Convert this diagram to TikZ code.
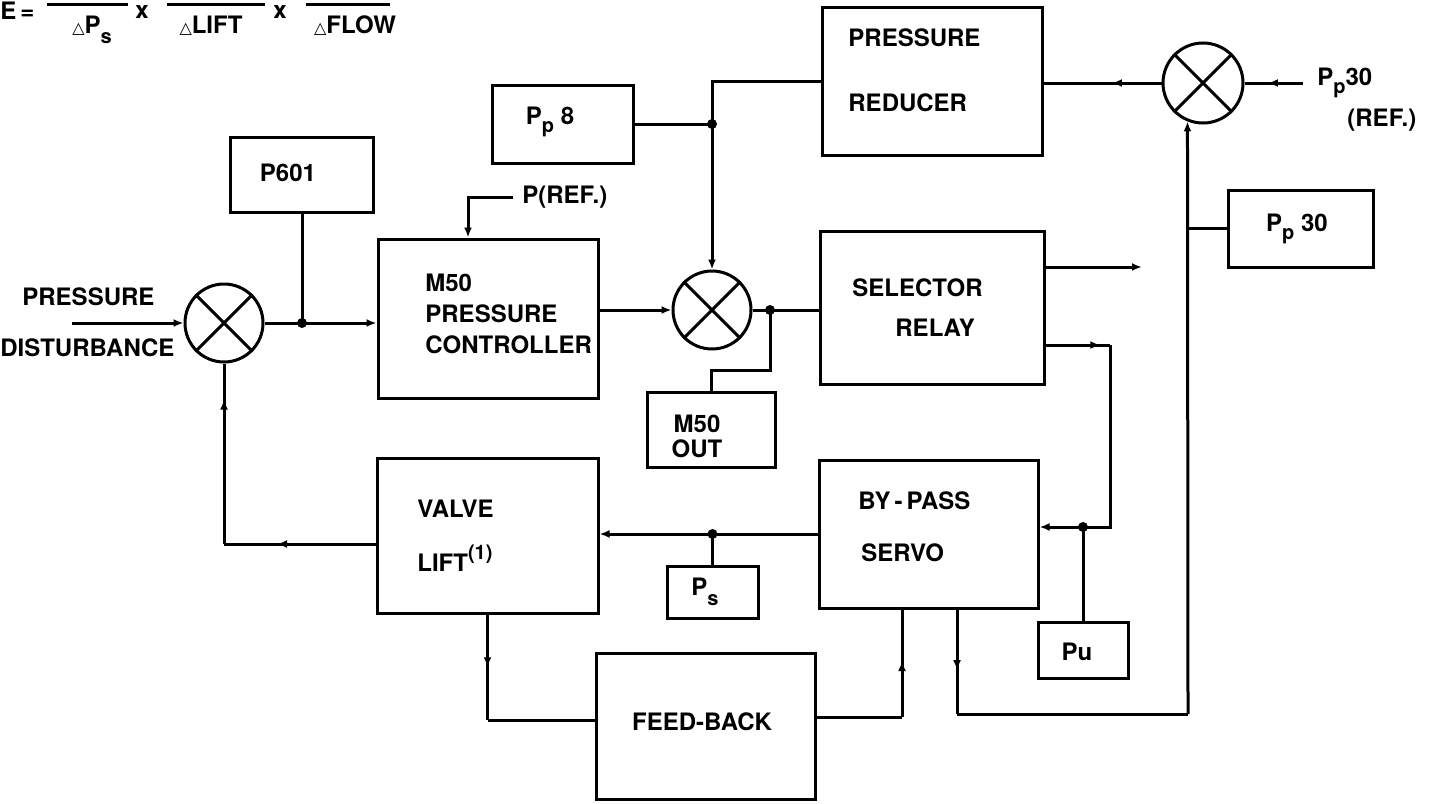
\documentclass[tikz,border=0pt]{standalone}
\usepackage{fontspec}
\setmainfont{TeX Gyre Heros}
\newfontfamily\dvs{DejaVu Sans}
\usetikzlibrary{arrows.meta,decorations.markings,calc}
\newcommand\lowp{\raisebox{-4pt}{\fontsize{10}{10}\selectfont p}}
\newcommand\lows{\raisebox{-5pt}{\fontsize{10}{10}\selectfont s}}
\newcommand\tri{{\dvs\fontsize{8}{8}\selectfont\char"25B3}}
\begin{document}
\begin{tikzpicture}[x=0.5pt,y=-0.5pt,
  every node/.style={font=\fontsize{12}{15.5}\selectfont\bfseries, inner sep=0pt},
  ln/.style={line width=1.5pt},
  blk/.style 2 args={draw, line width=1.5pt, rectangle, minimum width=#1*0.5pt, minimum height=#2*0.5pt},
  sumj/.style={draw, line width=1.5pt, circle, minimum size=78*0.5pt},
  tip/.style={-{Latex[length=5pt,width=4pt]}},
  midarr/.style={postaction={decorate}, decoration={markings, mark=at position #1 with {\arrow{Latex[length=5pt,width=4pt]}}}},
  jdot/.style={circle, fill, minimum size=5pt},
  lbl/.style={anchor=west, align=left}
]
\useasboundingbox (0,0) rectangle (1433,803);

% formula (numerators lie above the page, as in the reference)
\node[anchor=base west] (etxt) at (0,19) {E\,=};
\draw[ln] (47,4) -- (128,4);
\draw[ln] (167,4) -- (265,4);
\draw[ln] (306,4) -- (390,4);
\node[anchor=base] (d1) at (92,33) {\tri P\lows};
\node[anchor=base] (d2) at (211,33) {\tri LIFT};
\node[anchor=base] (d3) at (355,33) {\tri FLOW};
\node (x1) at (142,12) {x};
\node (x2) at (280,12) {x};

% boxes
\node[blk={143}{75}] (p601) at (302,174.5) {};
\node[blk={220}{159}] (m50) at (488,318.5) {};
\node[blk={141}{78}] (pp8) at (562.5,124) {};
\node[blk={220}{148}] (red) at (932,81) {};
\node[blk={224}{153}] (sel) at (932,307.5) {};
\node[blk={128}{75}] (m50o) at (711,429.5) {};
\node[blk={145}{77}] (pp30) at (1300.5,228.5) {};
\node[blk={221}{155}] (valve) at (487.5,535.5) {};
\node[blk={91}{52}] (ps) at (712.5,592) {};
\node[blk={219}{148}] (byp) at (928.5,534) {};
\node[blk={90}{56}] (pu) at (1083,650) {};
\node[blk={219}{146}] (fb) at (705.5,726) {};

% summing junctions
\node[sumj] (sl) at (224,323) {};
\node[sumj] (sm) at (712,310) {};
\node[sumj, minimum size=80*0.5pt] (sr) at (1203,83) {};
\foreach \n in {sl,sm,sr} { \draw[ln] (\n.45) -- (\n.225) (\n.135) -- (\n.315); }

% texts
\node[anchor=west] (pdl1) at (22,297) {PRESSURE};
\node[anchor=west] (pdl2) at (0,348) {DISTURBANCE};
\node (t601) at (288,173) {P601};
\node[anchor=west] (pref) at (522,197) {P(REF.)};
\node[lbl] (tm50) at (425,314) {M50\\PRESSURE\\CONTROLLER};
\node (tpp8) at (550,122) {P\lowp\ 8};
\node[lbl] (tred1) at (848,38) {PRESSURE};
\node[lbl] (tred2) at (848,103) {REDUCER};
\node[anchor=west] (tpr) at (1317,83) {P\lowp30};
\node[anchor=west] (tpr2) at (1347,120) {(REF.)};
\node[lbl] (tsel1) at (852,288) {SELECTOR};
\node[lbl] (tsel2) at (895,328) {RELAY};
\node[align=center, font=\fontsize{12}{12.5}\selectfont\bfseries] (tmo) at (697,436) {M50\\OUT};
\node (tpp30) at (1297,229) {P\lowp\ 30};
\node[lbl] (tb1) at (858,501) {BY\,-\,PASS};
\node[lbl] (tb2) at (861,553) {SERVO};
\node[lbl] (tv1) at (417,509) {VALVE};
\node[lbl] (tv2) at (417,558) {LIFT\raisebox{6pt}{\fontsize{10}{10}\selectfont(1)}};
\node (tps) at (705,592) {P\lows};
\node (tpu) at (1077,652) {Pu};
\node (tfb) at (702,722) {FEED-BACK};

% connectors
\coordinate (pin) at (72,323);
\draw[ln,tip] (pin) -- (sl.west);
\draw[ln,tip] (sl.east) -- (sl.east -| m50.west);
\node[jdot] (d601) at (sl.east -| p601.south) {};
\draw[ln] (p601.south) -- (d601.center);

\coordinate (prs0) at (513,197);
\coordinate (prc) at (468,197);
\draw[ln,tip] (prs0) -- (prc) -- (prc |- m50.north);

\draw[ln,tip] (m50.east |- sm.west) -- (sm.west);
\node[jdot] (d8) at (pp8.east -| sm.north) {};
\draw[ln] (pp8.east) -- (d8.center);
\draw[ln,tip] (red.west) -- (red.west -| sm.north) -- (sm.north);

\draw[ln,midarr=0.42] (sr.west) -- (sr.west -| red.east);
\coordinate (prs) at (1303,83);
\draw[ln,midarr=0.6] (prs) -- (sr.east);

\draw[ln] (sm.east) -- (sm.east -| sel.west);
\node[jdot] (d50) at (770,310) {};
\coordinate (c50) at (712,370);
\draw[ln] (d50.center) -- (d50.center |- c50) -- (c50 -| m50o.north) -- (m50o.north);

\coordinate (outA) at (1142,267);
\draw[ln,tip] (sel.east |- outA) -- (outA);

\coordinate (c1) at (1110,345);
\coordinate (c2) at (1110,527);
\draw[ln,midarr=0.85] (sel.east |- c1) -- (c1);
\draw[ln,tip] (c1) -- (c2) -- (c2 -| byp.east);
\node[jdot] (dpu) at (c2 -| pu.north) {};
\draw[ln] (pu.north) -- (dpu.center);

\draw[ln,tip] (byp.west) -- (byp.west -| valve.east);
\node[jdot] (dps) at (byp.west -| ps.north) {};
\draw[ln] (ps.north) -- (dps.center);

\coordinate (lc) at (224,544);
\draw[ln,midarr=0.65] (valve.west |- lc) -- (lc);
\draw[ln,midarr=0.8] (lc) -- (sl.south);

\coordinate (fc) at (487.5,720);
\draw[ln,midarr=0.5] (valve.south) -- (fc);
\draw[ln] (fc) -- (fc -| fb.west);

\coordinate (fr) at (902,717);
\draw[ln] (fb.east |- fr) -- (fr);
\draw[ln,midarr=0.52] (fr) -- (fr |- byp.south);

\coordinate (br) at (957,714);
\coordinate (vr) at (1188,714);
\draw[ln,midarr=0.58] (br |- byp.south) -- (br);
\draw[ln] (br) -- (vr);
\draw[ln,tip] (vr) -- (sr.-112);
\draw[ln] (pp30.west) -- (pp30.west -| vr);
\end{tikzpicture}
\end{document}
